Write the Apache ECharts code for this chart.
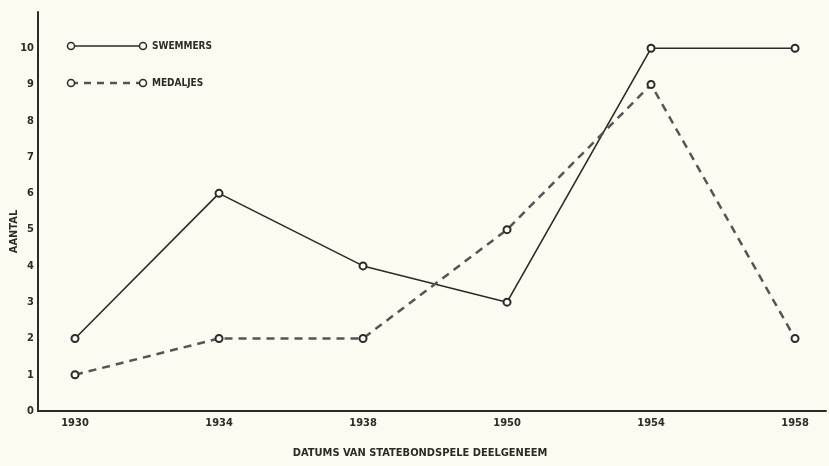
<!DOCTYPE html>
<html>
<head>
<meta charset="utf-8">
<script src="https://cdn.jsdelivr.net/npm/echarts@6/dist/echarts.min.js"></script>
<style>
html,body{margin:0;padding:0;background:#fbfbf1;}
#chart{width:829px;height:466px;}
</style>
</head>
<body>
<div id="chart"></div>
<script>
const years = ['1930', '1934', '1938', '1950', '1954', '1958'];
const swemmers = [2, 6, 4, 3, 10, 10];
const medaljes = [1, 2, 2, 5, 9, 2];
const yTicks = [0, 1, 2, 3, 4, 5, 6, 7, 8, 9, 10];

const FONT = '"DejaVu Sans Condensed", "DejaVu Sans", sans-serif';
const INK = '#2e2a26';

const chart = echarts.init(document.getElementById('chart'));
const toPairs = arr => arr.map((v, i) => [i, v]);

function legendItem(y, dashed, label) {
  return [
    { type: 'line', shape: { x1: 71, y1: y, x2: 143, y2: y },
      style: { stroke: dashed ? '#555' : INK, lineWidth: dashed ? 2.5 : 1.6, lineDash: dashed ? [7, 6] : null } },
    { type: 'circle', shape: { cx: 71, cy: y, r: 3.5 }, style: { fill: '#fbfbf1', stroke: INK, lineWidth: 1.5 } },
    { type: 'circle', shape: { cx: 143, cy: y, r: 3.5 }, style: { fill: '#fbfbf1', stroke: INK, lineWidth: 1.5 } },
    { type: 'text', x: 152, y: y, style: { text: label, font: 'bold 10px ' + FONT, fill: INK, verticalAlign: 'middle' } }
  ];
}

chart.setOption({
  backgroundColor: '#fbfbf1',
  animation: false,
  grid: { left: 38, right: 3, top: 12, bottom: 55, containLabel: false, outerBoundsMode: 'none' },
  xAxis: {
    type: 'value',
    min: -0.257,
    max: 5.215,
    splitLine: { show: false },
    axisLine: { show: true, onZero: false, lineStyle: { color: INK, width: 2 } },
    axisTick: { show: false },
    axisLabel: {
      customValues: years.map((y, i) => i),
      formatter: v => years[Math.round(v)],
      color: INK, fontFamily: FONT, fontWeight: 'bold', fontSize: 11, margin: 7
    },
    name: 'DATUMS VAN STATEBONDSPELE DEELGENEEM',
    nameLocation: 'middle',
    nameGap: 37,
    nameMoveOverlap: false,
    nameTextStyle: { color: INK, fontFamily: FONT, fontWeight: 'bold', fontSize: 11, padding: [0, 24, 0, 0] }
  },
  yAxis: {
    type: 'value',
    min: 0,
    max: 11,
    interval: 1,
    splitLine: { show: false },
    axisLine: { show: true, onZero: false, lineStyle: { color: INK, width: 2 } },
    axisTick: { show: false },
    axisLabel: {
      formatter: v => (yTicks.indexOf(v) >= 0 ? String(v) : ''),
      color: INK, fontFamily: FONT, fontWeight: 'bold', fontSize: 11, margin: 4
    },
    name: 'AANTAL',
    nameLocation: 'middle',
    nameGap: 18,
    nameMoveOverlap: false,
    nameRotate: 90,
    nameTextStyle: { color: INK, fontFamily: FONT, fontWeight: 'bold', fontSize: 11, padding: [0, 40, 0, 0] }
  },
  series: [
    {
      name: 'SWEMMERS', type: 'line', data: toPairs(swemmers),
      symbol: 'emptyCircle', symbolSize: 7,
      lineStyle: { color: INK, width: 1.6 },
      itemStyle: { color: INK, borderWidth: 1.5 }
    },
    {
      name: 'MEDALJES', type: 'line', data: toPairs(medaljes),
      symbol: 'emptyCircle', symbolSize: 7,
      lineStyle: { color: '#555', width: 2.5, type: [8, 6] },
      itemStyle: { color: INK, borderWidth: 1.5 }
    }
  ],
  graphic: [].concat(legendItem(46, false, 'SWEMMERS'), legendItem(83, true, 'MEDALJES'))
});
</script>
</body>
</html>
